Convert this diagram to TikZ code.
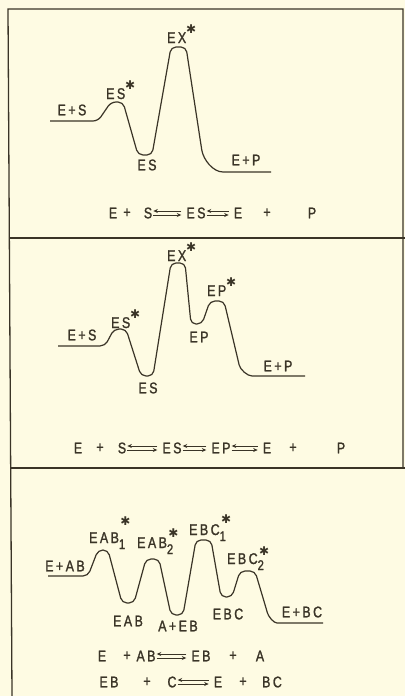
\documentclass[tikz,border=0pt]{standalone}
\usepackage{fontspec}
\setmainfont{Liberation Sans}[FakeStretch=0.8, LetterSpace=16, FakeBold=1.4]
\newfontfamily\starfont{DejaVu Sans}
\usepackage{xcolor}
\usetikzlibrary{arrows.meta}
\definecolor{paper}{HTML}{FEFBE3}
\definecolor{ink}{HTML}{3A3427}
% star and lowered index for the transition states
\newcommand\st[1][10pt]{\raisebox{#1}{\starfont\fontsize{12}{12}\selectfont ✱}}
\newcommand\lowidx[1]{\rlap{\raisebox{-6pt}{\fontsize{14}{14}\selectfont #1}}\hspace{1.5pt}}

\begin{document}
\begin{tikzpicture}[x=1pt, y=-1pt,
    lbl/.style={inner sep=0pt, text=ink, font=\fontsize{15.5}{16}\selectfont},
    stlbl/.style={lbl, anchor=base west},
    curve/.style={draw=ink, line width=1.2pt, rounded corners=5pt, line join=round},
    frame/.style={draw=ink, line width=1.3pt},
    eqarr/.style={draw=ink, line width=1pt, -{Stealth[length=4.5pt, width=4pt]}},
    fwd/.style={eqarr, shorten <=1pt, shorten >=5pt},
    back/.style={eqarr, shorten <=5pt, shorten >=1pt}]
  \fill[paper] (0,0) rectangle (405,696);
  \useasboundingbox (0,0) rectangle (405,696);

  % frame
  \draw[frame] (12,696) -- (8,9) -- (403,9) -- (403,468);
  \draw[frame] (9,238) -- (405,238);
  \draw[frame] (10,468) -- (405,468);

  % ---- panel 1
  \draw[curve] (50,121) -- (98,121) -- (111,102) -- (123,102) -- (138,155) -- (152,155)
    -- (171,47) -- (186,47) -- (201,145) to[out=-81, in=180] (228,172) -- (271,172);
  \node[lbl] (p1es) at (72,110) {E+S};
  \node[stlbl] (p1ests) at (106,99) {ES\st};
  \node[lbl] (p1es2) at (147,165) {ES};
  \node[stlbl] (p1ex) at (167,43) {EX\st};
  \node[lbl] (p1ep) at (246,160) {E+P};

  \node[lbl] (a1) at (113,213) {E};
  \node[lbl] (a2) at (127,213) {+};
  \node[lbl] (a3) at (148,213) {S};
  \node[lbl] (a4) at (196,213) {ES};
  \node[lbl] (a5) at (238,213) {E};
  \node[lbl] (a6) at (267,213) {+};
  \node[lbl] (a7) at (312,213) {P};
  \draw[back] ([yshift=2pt]a4.west) -- ([yshift=2pt]a3.east);
  \draw[fwd] ([yshift=-2pt]a3.east) -- ([yshift=-2pt]a4.west);
  \draw[back] ([yshift=2pt]a5.west) -- ([yshift=2pt]a4.east);
  \draw[fwd] ([yshift=-2pt]a4.east) -- ([yshift=-2pt]a5.west);

  % ---- panel 2
  \draw[curve] (58,346) -- (105,346) -- (114,329) -- (126,329) -- (141,376) -- (153,376)
    -- (171,263) -- (185,263) -- (191,324) -- (202,324) -- (210,301) -- (224,301)
    -- (238,360) to[out=-77, in=180] (257,376) -- (305,376);
  \node[lbl] (p2es) at (82,335) {E+S};
  \node[stlbl] (p2ests) at (111,328) {ES\st};
  \node[lbl] (p2es2) at (148,388) {ES};
  \node[stlbl] (p2ex) at (167,261) {EX\st};
  \node[lbl] (p2epv) at (199,337) {EP};
  \node[stlbl] (p2epst) at (207,296) {EP\st};
  \node[lbl] (p2ep) at (278,366) {E+P};

  \node[lbl] (b1) at (78,448) {E};
  \node[lbl] (b2) at (100,448) {+};
  \node[lbl] (b3) at (122,448) {S};
  \node[lbl] (b4) at (172,448) {ES};
  \node[lbl] (b5) at (221,448) {EP};
  \node[lbl] (b6) at (267,448) {E};
  \node[lbl] (b7) at (293,448) {+};
  \node[lbl] (b8) at (341,448) {P};
  \draw[back] ([yshift=2pt]b4.west) -- ([yshift=2pt]b3.east);
  \draw[fwd] ([yshift=-2pt]b3.east) -- ([yshift=-2pt]b4.west);
  \draw[back] ([yshift=2pt]b5.west) -- ([yshift=2pt]b4.east);
  \draw[fwd] ([yshift=-2pt]b4.east) -- ([yshift=-2pt]b5.west);
  \draw[back] ([yshift=2pt]b6.west) -- ([yshift=2pt]b5.east);
  \draw[fwd] ([yshift=-2pt]b5.east) -- ([yshift=-2pt]b6.west);

  % ---- panel 3
  \draw[curve] (48,576) -- (88,576) -- (98,550) -- (108,550) -- (122,603) -- (134,603)
    -- (146,559) -- (159,559) -- (171,615) -- (183,615) -- (196,540) -- (211,540)
    -- (221,597) -- (232,597) -- (240,571) -- (255,571)
    -- (266,608) to[out=-74, in=180] (282,623) -- (323,623);
  \node[lbl] (p3eab) at (65,566) {E+AB};
  \node[stlbl] (p3eab1) at (89,543) {EAB\lowidx{1}\st[18pt]};
  \node[stlbl] (p3eab2) at (137,548) {EAB\lowidx{2}\st[11pt]};
  \node[stlbl] (p3ebc1) at (189,535) {EBC\lowidx{1}\st[12pt]};
  \node[stlbl] (p3ebc2) at (227,564) {EBC\lowidx{2}\st[9pt]};
  \node[lbl] (p3eabv) at (128,621) {EAB};
  \node[lbl] (p3aeb) at (178,626) {A+EB};
  \node[lbl] (p3ebcv) at (228,614) {EBC};
  \node[lbl] (p3ebc) at (302,612) {E+BC};

  \node[lbl] (c1) at (102,656) {E};
  \node[lbl] (c2) at (127,656) {+};
  \node[lbl] (c3) at (146,656) {AB};
  \node[lbl] (c4) at (201,656) {EB};
  \node[lbl] (c5) at (233,656) {+};
  \node[lbl] (c6) at (260,656) {A};
  \draw[back] ([yshift=2pt]c4.west) -- ([yshift=2pt]c3.east);
  \draw[fwd] ([yshift=-2pt]c3.east) -- ([yshift=-2pt]c4.west);

  \node[lbl] (d1) at (109,682) {EB};
  \node[lbl] (d2) at (147,682) {+};
  \node[lbl] (d3) at (172,682) {C};
  \node[lbl] (d4) at (218,682) {E};
  \node[lbl] (d5) at (243,682) {+};
  \node[lbl] (d6) at (272,682) {BC};
  \draw[back] ([yshift=2pt]d4.west) -- ([yshift=2pt]d3.east);
  \draw[fwd] ([yshift=-2pt]d3.east) -- ([yshift=-2pt]d4.west);
\end{tikzpicture}
\end{document}
